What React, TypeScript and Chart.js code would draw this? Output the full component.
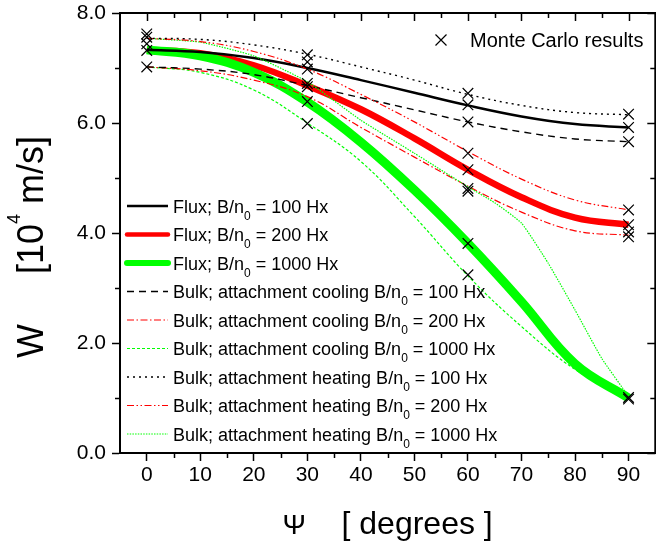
import React, { useEffect, useRef } from 'react';
import { Chart, registerables } from 'chart.js';

Chart.register(...registerables);

// ---------- data ----------
const angles = [0, 10, 20, 30, 40, 50, 60, 70, 80, 90];
const heatAngles1000 = [0, 10, 20, 30, 40, 50, 60, 65, 70, 75, 80, 85, 90];

const fluxB100 = [7.33, 7.29, 7.18, 7.0, 6.78, 6.55, 6.32, 6.12, 5.98, 5.92];
const fluxB200 = [7.33, 7.27, 7.05, 6.68, 6.25, 5.72, 5.15, 4.65, 4.28, 4.15];
const fluxB1000 = [7.33, 7.22, 6.92, 6.38, 5.65, 4.78, 3.81, 2.75, 1.62, 1.0];

const coolB100 = [7.02, 6.98, 6.88, 6.68, 6.46, 6.24, 6.02, 5.84, 5.71, 5.66];
const coolB200 = [7.02, 6.95, 6.78, 6.48, 5.92, 5.38, 4.85, 4.38, 4.04, 3.96];
const coolB1000 = [7.02, 6.92, 6.6, 6.0, 5.3, 4.3, 3.22, 2.3, 1.52, 1.0];

const heatB100 = [7.54, 7.52, 7.42, 7.25, 7.02, 6.78, 6.52, 6.32, 6.19, 6.15];
const heatB200 = [7.54, 7.48, 7.3, 6.98, 6.52, 6.02, 5.48, 4.98, 4.6, 4.42];
const heatB1000 = [7.54, 7.47, 7.22, 6.75, 6.05, 5.45, 4.84, 4.55, 4.18, 3.45, 2.6, 1.72, 1.03];

const mcAngles = [
  0, 0, 0, 0, 0,
  30, 30, 30, 30, 30, 30, 30,
  60, 60, 60, 60, 60, 60, 60, 60, 60,
  90, 90, 90, 90, 90, 90, 90, 90, 90,
];
const mcValues = [
  7.62, 7.56, 7.44, 7.32, 7.02,
  7.24, 7.11, 6.98, 6.72, 6.66, 6.39, 5.99,
  6.54, 6.33, 6.02, 5.45, 5.15, 4.81, 4.76, 3.81, 3.24,
  6.16, 5.92, 5.66, 4.42, 4.15, 4.02, 3.93, 1.01, 0.98,
];

const xMajorTicks = [0, 10, 20, 30, 40, 50, 60, 70, 80, 90];
const xMinorTicks = [5, 15, 25, 35, 45, 55, 65, 75, 85];
const yMajorTicks = [0, 2, 4, 6, 8];
const yMinorTicks = [1, 3, 5, 7];

const legendLabels = [
  'Flux; B/n₀ = 100 Hx',
  'Flux; B/n₀ = 200 Hx',
  'Flux; B/n₀ = 1000 Hx',
  'Bulk; attachment cooling B/n₀ = 100 Hx',
  'Bulk; attachment cooling B/n₀ = 200 Hx',
  'Bulk; attachment cooling B/n₀ = 1000 Hx',
  'Bulk; attachment heating B/n₀ = 100 Hx',
  'Bulk; attachment heating B/n₀ = 200 Hx',
  'Bulk; attachment heating B/n₀ = 1000 Hx',
];
const mcLabel = 'Monte Carlo results';
const xTitleSymbol = 'Ψ';
const xTitleText = '[ degrees ]';
const yTitleMain = 'W';
const yTitleUnitA = '[10';
const yTitleSup = '4';
const yTitleUnitB = ' m/s]';

const FONT = '"Liberation Sans", Arial, Helvetica, sans-serif';

const pts = (xs: number[], ys: number[]) => xs.map((x, i) => ({ x, y: ys[i] }));

type Part = { t: string; size: number; dy: number };
function drawParts(ctx: CanvasRenderingContext2D, parts: Part[], x: number, y: number, align: 'left' | 'center') {
  let total = 0;
  const widths = parts.map((p) => {
    ctx.font = `${p.size}px ${FONT}`;
    const w = ctx.measureText(p.t).width;
    total += w;
    return w;
  });
  let cx = align === 'center' ? x - total / 2 : x;
  parts.forEach((p, i) => {
    ctx.font = `${p.size}px ${FONT}`;
    ctx.fillText(p.t, cx, y + p.dy);
    cx += widths[i];
  });
}

function labelParts(label: string, size: number): Part[] {
  const [a, b] = label.split('₀');
  return [
    { t: a, size, dy: 0 },
    { t: '0', size: 12, dy: 7 },
    { t: b, size, dy: 0 },
  ];
}

const decorPlugin = {
  id: 'decor',
  afterDraw(chart: any) {
    const { ctx, chartArea: ca, scales } = chart;
    const xs = scales.x;
    const ys = scales.y;
    ctx.save();
    ctx.strokeStyle = '#000';
    ctx.fillStyle = '#000';
    ctx.setLineDash([]);

    // mirrored frame
    ctx.lineWidth = 2;
    ctx.beginPath();
    ctx.moveTo(ca.left - 1, ca.top);
    ctx.lineTo(ca.right, ca.top);
    ctx.lineTo(ca.right, ca.bottom + 1);
    ctx.stroke();

    ctx.lineWidth = 1.5;
    ctx.beginPath();
    xMajorTicks.forEach((v) => {
      const p = Math.round(xs.getPixelForValue(v)) + 0.5;
      ctx.moveTo(p, ca.top);
      ctx.lineTo(p, ca.top + 8);
    });
    xMinorTicks.forEach((v) => {
      const p = Math.round(xs.getPixelForValue(v)) + 0.5;
      ctx.moveTo(p, ca.top);
      ctx.lineTo(p, ca.top + 5);
      ctx.moveTo(p, ca.bottom);
      ctx.lineTo(p, ca.bottom + 5);
    });
    yMajorTicks.forEach((v) => {
      const p = Math.round(ys.getPixelForValue(v)) + 0.5;
      ctx.moveTo(ca.right, p);
      ctx.lineTo(ca.right - 8, p);
    });
    yMinorTicks.forEach((v) => {
      const p = Math.round(ys.getPixelForValue(v)) + 0.5;
      ctx.moveTo(ca.left - 5, p);
      ctx.lineTo(ca.left, p);
      ctx.moveTo(ca.right, p);
      ctx.lineTo(ca.right - 5, p);
    });
    ctx.stroke();

    // legend (left)
    const byLabel: Record<string, any> = {};
    chart.data.datasets.forEach((d: any) => (byLabel[d.label] = d));
    const lx1 = ca.left + 7;
    const lx2 = ca.left + 48;
    const tx = ca.left + 53;
    const row0 = ca.top + 193;
    const rowH = 28.5;
    ctx.textBaseline = 'alphabetic';
    ctx.textAlign = 'left';
    legendLabels.forEach((lab, i) => {
      const d = byLabel[lab];
      const yy = row0 + i * rowH;
      ctx.save();
      ctx.strokeStyle = d.borderColor;
      ctx.lineWidth = d.legendWidth;
      ctx.setLineDash(d.borderDash || []);
      ctx.lineCap = d.legendWidth > 3 ? 'round' : 'butt';
      ctx.beginPath();
      ctx.moveTo(lx1, yy);
      ctx.lineTo(lx2, yy);
      ctx.stroke();
      ctx.restore();
      ctx.fillStyle = '#000';
      drawParts(ctx, labelParts(lab, 18), tx, yy + 6.5, 'left');
    });

    // Monte Carlo legend (top right)
    const mx = ca.left + 321;
    const my = ca.top + 27;
    ctx.lineWidth = 1.2;
    ctx.beginPath();
    ctx.moveTo(mx - 5.5, my - 5.5);
    ctx.lineTo(mx + 5.5, my + 5.5);
    ctx.moveTo(mx + 5.5, my - 5.5);
    ctx.lineTo(mx - 5.5, my + 5.5);
    ctx.stroke();
    ctx.font = `20px ${FONT}`;
    ctx.fillText(mcLabel, mx + 29, my + 7);

    // x title
    const cxm = (ca.left + ca.right) / 2;
    drawParts(
      ctx,
      [
        { t: xTitleSymbol, size: 28, dy: 0 },
        { t: '    ' + xTitleText, size: 32, dy: 0 },
      ],
      cxm,
      ca.bottom + 81,
      'center'
    );

    // y title (rotated)
    ctx.save();
    ctx.translate(43, (ca.top + ca.bottom) / 2 + 14);
    ctx.rotate(-Math.PI / 2);
    drawParts(
      ctx,
      [
        { t: yTitleMain + '     ' + yTitleUnitA, size: 36, dy: 0 },
        { t: yTitleSup, size: 18, dy: -23 },
        { t: yTitleUnitB, size: 36, dy: 0 },
      ],
      0,
      0,
      'center'
    );
    ctx.restore();

    ctx.restore();
  },
};

export default function App() {
  const ref = useRef<HTMLCanvasElement | null>(null);

  useEffect(() => {
    document.documentElement.style.overflow = 'hidden';
    document.body.style.margin = '0';
    document.body.style.overflow = 'hidden';
    const canvas = ref.current;
    if (!canvas) return;

    const line = (label: string, xs: number[], ys: number[], color: string, width: number, dash: number[], legendWidth: number, tension = 0.4) => ({
      label,
      data: pts(xs, ys),
      borderColor: color,
      backgroundColor: color,
      borderWidth: width,
      borderDash: dash,
      legendWidth,
      pointRadius: 0,
      pointHoverRadius: 0,
      fill: false,
      tension,
      showLine: true,
    });

    const chart = new Chart(canvas, {
      type: 'line',
      data: {
        datasets: [
          {
            label: mcLabel,
            data: pts(mcAngles, mcValues),
            showLine: false,
            pointStyle: 'crossRot',
            pointRadius: 7.5,
            pointBorderWidth: 1.2,
            borderColor: '#000',
            backgroundColor: '#000',
          } as any,
          line(legendLabels[6], angles, heatB100, '#000000', 1.4, [2, 4], 1.4),
          line(legendLabels[7], angles, heatB200, '#ff0000', 1.2, [7, 2.5, 1.5, 2.5, 1.5, 2.5], 1.2),
          line(legendLabels[8], heatAngles1000, heatB1000, '#00ff00', 1.2, [1.5, 1.2], 1.2, 0.15),
          line(legendLabels[3], angles, coolB100, '#000000', 1.4, [7, 5], 1.4),
          line(legendLabels[4], angles, coolB200, '#ff0000', 1.2, [7, 2.5, 1.5, 2.5], 1.2),
          line(legendLabels[5], angles, coolB1000, '#00ff00', 1.2, [3, 2], 1.2),
          line(legendLabels[0], angles, fluxB100, '#000000', 2.5, [], 2.5),
          line(legendLabels[2], angles, fluxB1000, '#00ff00', 9, [], 6),
          line(legendLabels[1], angles, fluxB200, '#ff0000', 6.5, [], 4.5),
        ],
      },
      options: {
        responsive: false,
        animation: false,
        devicePixelRatio: 1,
        layout: { padding: { left: 0, right: 4, top: 13, bottom: 0 } },
        plugins: {
          legend: { display: false },
          tooltip: { enabled: false },
          title: { display: false },
        },
        elements: { line: { borderCapStyle: 'butt' } },
        scales: {
          x: {
            type: 'linear',
            min: -5,
            max: 95,
            afterBuildTicks: (s: any) => {
              s.ticks = xMajorTicks.map((v) => ({ value: v }));
            },
            afterFit: (s: any) => {
              s.height = 90;
              s.paddingLeft = 0;
              s.paddingRight = 0;
            },
            grid: {
              drawOnChartArea: false,
              drawTicks: true,
              tickLength: 8,
              tickColor: '#000',
              tickWidth: 1.5,
            },
            border: { display: true, color: '#000', width: 2 },
            ticks: {
              color: '#000',
              font: { family: FONT, size: 21 },
              padding: 2,
              maxRotation: 0,
              autoSkip: false,
              callback: (v: any) => String(v),
            },
          },
          y: {
            type: 'linear',
            min: 0,
            max: 8,
            afterBuildTicks: (s: any) => {
              s.ticks = yMajorTicks.map((v) => ({ value: v }));
            },
            afterFit: (s: any) => {
              s.width = 120;
              s.paddingTop = 0;
              s.paddingBottom = 0;
            },
            grid: {
              drawOnChartArea: false,
              drawTicks: true,
              tickLength: 8,
              tickColor: '#000',
              tickWidth: 1.5,
            },
            border: { display: true, color: '#000', width: 2 },
            ticks: {
              color: '#000',
              font: { family: FONT, size: 21 },
              padding: 6,
              autoSkip: false,
              callback: (v: any) => Number(v).toFixed(1),
            },
          },
        },
      },
      plugins: [decorPlugin],
    } as any);

    return () => chart.destroy();
  }, []);

  return (
    <canvas
      ref={ref}
      width={664}
      height={543}
      style={{ position: 'absolute', left: 0, top: 0, width: 664, height: 543, display: 'block' }}
    />
  );
}
